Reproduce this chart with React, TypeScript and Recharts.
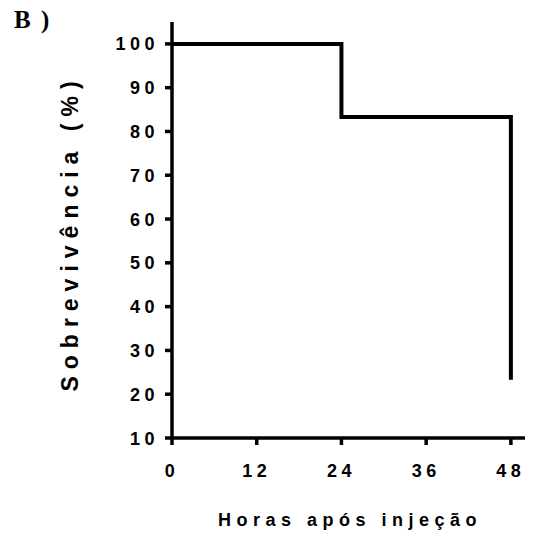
import React from 'react';
import { LineChart, Line, XAxis, YAxis, Label } from 'recharts';

// survival curve (Kaplan-Meier style step)
const hours = [0, 24, 48];
const survival = [100, 83.3, 23.3];
const xTicks = [0, 12, 24, 36, 48];
const yTicks = [10, 20, 30, 40, 50, 60, 70, 80, 90, 100];

const data = hours.map((h, i) => ({ h, s: survival[i] }));

const FONT = '"Liberation Sans", Arial, sans-serif';

const XTick = (props: any) => {
  const { x, y, payload } = props;
  return (
    <text
      x={x}
      y={y}
      dy={20}
      textAnchor="middle"
      fontFamily={FONT}
      fontWeight="bold"
      fontSize={18}
      fill="#000"
      style={{ letterSpacing: '4.5px' }}
    >
      {payload.value}
    </text>
  );
};

const YTick = (props: any) => {
  const { x, y, payload } = props;
  return (
    <text
      x={x + 2}
      y={y}
      dy={6.5}
      textAnchor="end"
      fontFamily={FONT}
      fontWeight="bold"
      fontSize={18}
      fill="#000"
      style={{ letterSpacing: '4.5px' }}
    >
      {payload.value}
    </text>
  );
};

export default function App() {
  return (
    <div style={{ position: 'absolute', left: 0, top: 0, width: 534, height: 536, background: '#fff' }}>
      <div
        style={{
          position: 'absolute',
          left: 14,
          top: 7,
          lineHeight: 1,
          fontFamily: '"Liberation Serif", "Times New Roman", serif',
          fontWeight: 'bold',
          fontSize: 25,
          letterSpacing: '2px',
          zIndex: 1,
        }}
      >
        B )
      </div>
      <LineChart width={534} height={536} data={data} margin={{ top: 22, right: 9, bottom: 68, left: 0 }}>
        <XAxis
          dataKey="h"
          type="number"
          domain={[0, 50]}
          ticks={xTicks}
          height={30}
          stroke="#000"
          strokeWidth={3.5}
          tickSize={7}
          tickMargin={12}
          tick={<XTick />}
          interval={0}
        >
          <Label
            content={() => (
              <text
                x={350}
                y={526}
                textAnchor="middle"
                fontFamily={FONT}
                fontWeight="bold"
                fontSize={18}
                fill="#000"
                style={{ letterSpacing: '5.5px' }}
              >
                Horas após injeção
              </text>
            )}
          />
        </XAxis>
        <YAxis
          type="number"
          domain={[10, 105]}
          ticks={yTicks}
          width={172}
          stroke="#000"
          strokeWidth={3.5}
          tickSize={7}
          tickMargin={8}
          tick={<YTick />}
          interval={0}
        >
          <Label
            content={() => (
              <text
                x={78}
                y={233}
                transform="rotate(-90 78 233)"
                textAnchor="middle"
                fontFamily={FONT}
                fontWeight="bold"
                fontSize={23}
                fill="#000"
                style={{ letterSpacing: '7px' }}
              >
                Sobrevivência (%)
              </text>
            )}
          />
        </YAxis>
        <Line
          type="stepAfter"
          dataKey="s"
          stroke="#000"
          strokeWidth={4}
          dot={false}
          isAnimationActive={false}
          strokeLinecap="butt"
        />
      </LineChart>
    </div>
  );
}
